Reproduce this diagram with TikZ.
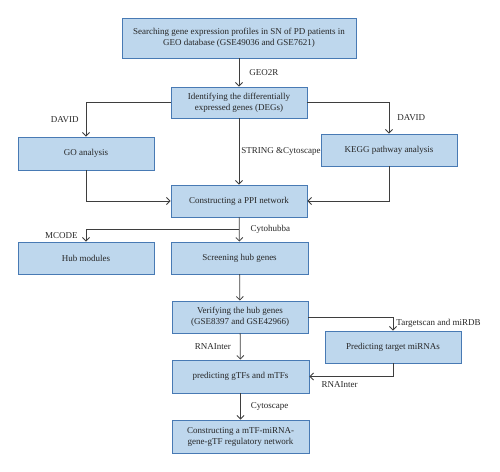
\documentclass[tikz,border=0pt]{standalone}
\usepackage{fontspec}
\setmainfont{Liberation Serif}
\usetikzlibrary{arrows.meta}
\definecolor{boxfill}{RGB}{190,215,237}
\definecolor{boxline}{RGB}{72,122,180}
\definecolor{flowline}{RGB}{62,62,62}
\begin{document}
\begin{tikzpicture}[x=1pt,y=-1pt,
  stepbox/.style={draw=boxline,fill=boxfill,line width=0.9pt,align=center,inner sep=1pt,
    minimum width=136pt,minimum height=32pt,text=black!85,font=\fontsize{9}{11}\selectfont},
  flow/.style={draw=flowline,line width=0.8pt,-{Straight Barb[length=3.5pt,width=7pt]}},
  tool/.style={inner sep=2pt,text=black!85,font=\fontsize{9}{10}\selectfont}]
\useasboundingbox (0,0) rectangle (500,471);
\node[stepbox,minimum width=234pt,minimum height=40pt] (search) at (239,38)
  {Searching gene expression profiles in SN of PD patients in\\GEO database (GSE49036 and GSE7621)};
\node[stepbox,minimum height=31pt] (degs) at (239,102.5) {Identifying the differentially\\expressed genes (DEGs)};
\node[stepbox,minimum height=33pt] (go) at (86,153.5) {GO analysis};
\node[stepbox] (kegg) at (389,150) {KEGG pathway analysis};
\node[stepbox] (ppi) at (239,201) {Constructing a PPI network};
\node[stepbox] (hub) at (86,258) {Hub modules};
\node[stepbox,minimum width=137pt] (screen) at (239.5,258) {Screening hub genes};
\node[stepbox] (verify) at (240,317) {Verifying the hub genes\\(GSE8397 and GSE42966)};
\node[stepbox] (mirna) at (393,347) {Predicting target miRNAs};
\node[stepbox,minimum width=137pt,minimum height=33pt] (tfs) at (240.5,376.5) {predicting gTFs and mTFs};
\node[stepbox,minimum width=137pt,minimum height=33pt] (net) at (240.5,436.5)
  {Constructing a mTF-miRNA-\\gene-gTF regulatory network};
\coordinate (split) at (239,229);
% connectors
\draw[flow] (search) -- node[tool,right=8pt]{GEO2R} (degs);
\draw[flow] (degs.west) -| node[tool,pos=0.75,left=5pt]{DAVID} (go.north);
\draw[flow] (degs.east) -| node[tool,pos=0.75,right=6pt]{DAVID} (kegg.north);
\draw[flow] (degs) -- node[tool,right=0pt]{STRING \&Cytoscape} (ppi);
\draw[flow] (go.south) |- (ppi.west);
\draw[flow] (kegg.south) |- (ppi.east);
\draw[flow] (ppi) -- node[tool,pos=0.48,right=9pt]{Cytohubba} (screen);
\draw[flow] (split) -| node[tool,pos=0.75,left=6pt]{MCODE} (hub.north);
\draw[flow] (screen) -- (verify);
\draw[flow] (verify.east) -| node[tool,pos=0.75,right=1pt]{Targetscan and miRDB} (mirna.north);
\draw[flow] (verify) -- node[tool,left=7pt]{RNAInter} (tfs);
\draw[flow] (mirna.south) |- node[tool,pos=0.82,below=3pt]{RNAInter} (tfs.east);
\draw[flow] (tfs) -- node[tool,right=8pt]{Cytoscape} (net);
\end{tikzpicture}
\end{document}
